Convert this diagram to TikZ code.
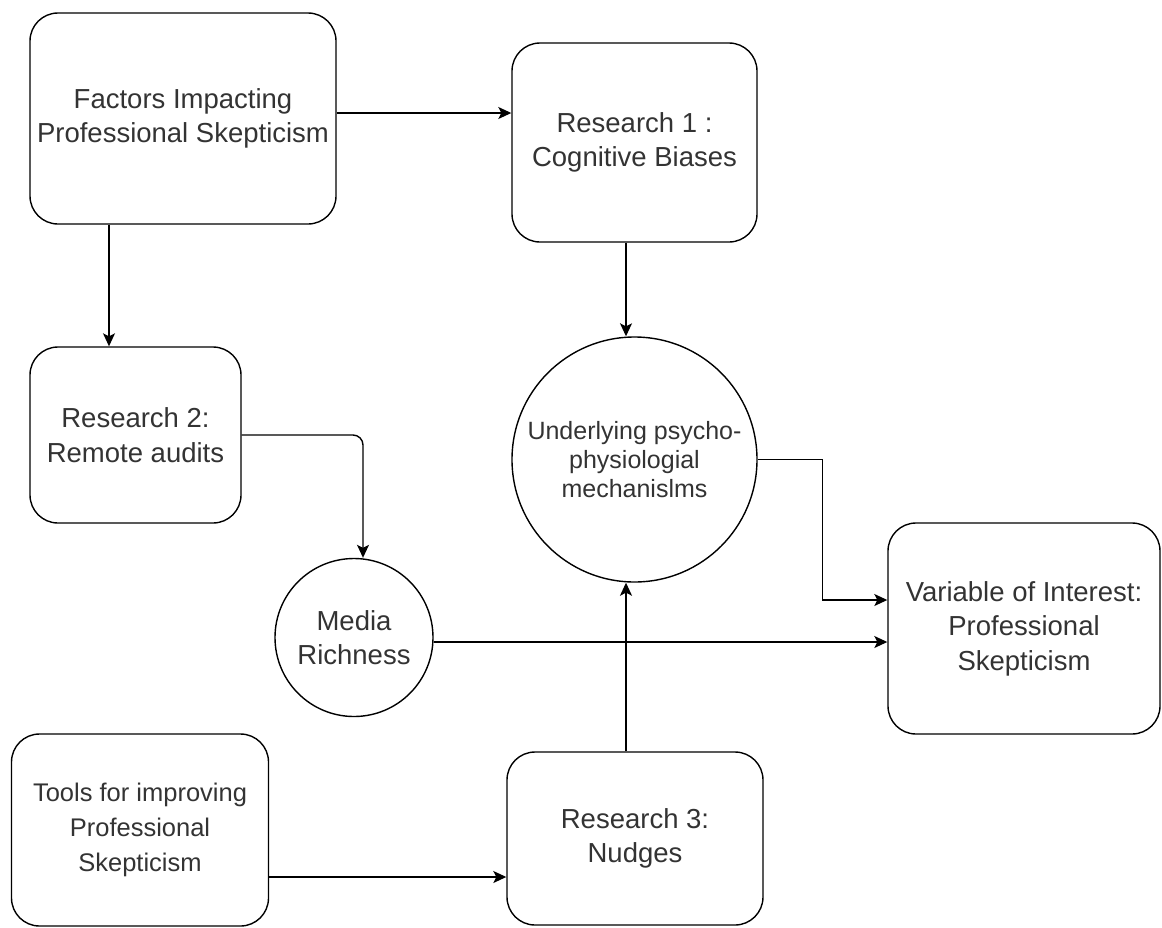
\documentclass[tikz,border=0pt]{standalone}
\usepackage{fontspec}
\setmainfont{Liberation Sans}
\usetikzlibrary{arrows.meta, positioning}

\begin{document}
\begin{tikzpicture}[x=1pt, y=-1pt, line width=1.4pt,
    >={Stealth[length=13pt, width=12pt, inset=3pt]},
    box/.style={draw, rounded corners=28pt, inner sep=0pt, align=center,
        text=black!80, font=\fontsize{27.5}{34.5}\selectfont},
    ring/.style={draw, circle, inner sep=0pt, align=center,
        text=black!80, font=\fontsize{27.5}{34.5}\selectfont}]
                        \useasboundingbox (0, 0) rectangle (1162, 927);

                        \node[box, minimum width=306pt, minimum height=211pt] (fac) at (183, 118.5) {Factors Impacting\\Professional Skepticism};
                        \node[box, minimum width=245pt, minimum height=199pt] (r1) at (634.5, 142.5) {Research 1 :\\Cognitive Biases};
                        \node[box, minimum width=211pt, minimum height=176pt] (r2) at (135.5, 435) {Research 2:\\Remote audits};
                        \node[ring, minimum size=245pt, font=\fontsize{25}{29}\selectfont] (mech) at (634.5, 459.5) {Underlying psycho-\\physiologial\\mechanislms};
                        \node[ring, minimum size=158pt] (media) at (354, 637.5) {Media\\Richness};
                        \node[box, minimum width=272pt, minimum height=211pt] (var) at (1024, 628.5) {Variable of Interest:\\Professional\\Skepticism};
                        \node[box, minimum width=257pt, minimum height=192pt, font=\fontsize{25.5}{35}\selectfont] (tools) at (140, 830) {Tools for improving\\Professional\\Skepticism};
                        \node[box, minimum width=256pt, minimum height=173pt] (r3) at (635, 838.5) {Research 3:\\Nudges};

                        \draw[->] ([yshift=5.5pt]fac.east) -- ([yshift=5.5pt]fac.east -| r1.west);
                        \draw[->] ([xshift=-74pt]fac.south) -- ([xshift=-74pt]fac.south |- r2.north);
                        \draw[->] ([xshift=-8.5pt]r1.south) -- ([xshift=-8.5pt]r1.south |- mech.north);
                        \draw[->, rounded corners=10pt] (r2.east) -| ([xshift=9pt]media.north);
                        \draw[->] (mech.east) -- ++(65, 0) |- ([yshift=28.5pt]var.west);
                        \draw[->] ([yshift=-4.5pt]media.east) -- ([yshift=-4.5pt]media.east -| var.west);
                        \draw[->] ([yshift=-47pt]tools.east) -- ([yshift=-47pt]tools.east -| r3.west);
                        \draw[->] ([xshift=-9pt]r3.north) -- ([xshift=-9pt]r3.north |- mech.south);
                    \end{tikzpicture}
\end{document}
